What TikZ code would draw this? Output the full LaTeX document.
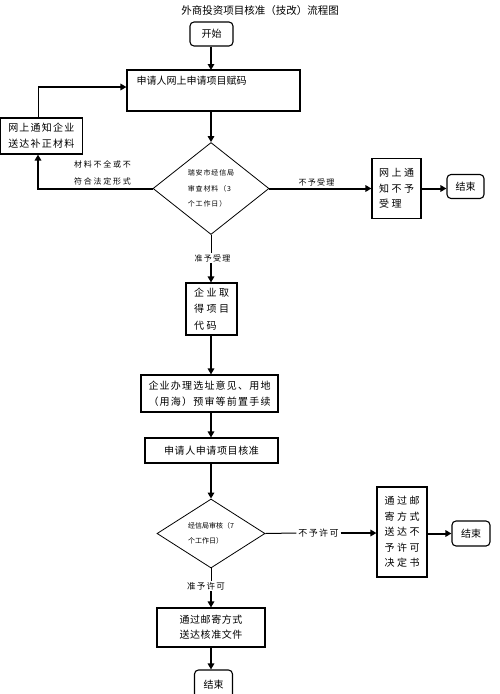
\documentclass[tikz,border=0pt]{standalone}
\usepackage{fontspec}
\usetikzlibrary{arrows.meta,shapes.geometric}
\newfontfamily\cjk{Noto Sans CJK SC}
\newfontfamily\cjkA[LetterSpace=25]{Noto Sans CJK SC}
\newfontfamily\cjkB[LetterSpace=12]{Noto Sans CJK SC}
\newfontfamily\cjkC[LetterSpace=22]{Noto Sans CJK SC}
\newfontfamily\cjkD[LetterSpace=6]{Noto Sans CJK SC}
\newfontfamily\cjkE[LetterSpace=15]{Noto Sans CJK SC}
\begin{document}
\begin{tikzpicture}[x=1pt,y=-1pt,
  box/.style={draw,line width=1.1pt,inner sep=0pt,align=center},
  rbox/.style={box,rounded corners=4pt},
  dia/.style={draw,diamond,line width=0.8pt,inner sep=0pt,align=left},
  arr/.style={line width=2pt,-{Triangle[length=6pt,width=6.5pt]}},
  thinline/.style={line width=1pt},
  lbl/.style={inner sep=1pt,align=left}]
\useasboundingbox[fill=white] (0,0) rectangle (500,694);

\node[font=\cjk\fontsize{10.5}{12}\selectfont] (title) at (260,11) {外商投资项目核准（技改）流程图};

\node[rbox,minimum width=43pt,minimum height=24pt,font=\cjk\fontsize{10}{12}\selectfont] (start) at (211.5,34) {开始};

\node[box,minimum width=173pt,minimum height=41pt,
  label={[font=\cjk\fontsize{10}{12}\selectfont,anchor=north west,inner sep=0pt,xshift=10pt,yshift=-6pt]north west:申请人网上申请项目赋码}] (b1) at (213.5,90.5) {};

\node[box,minimum width=81.5pt,minimum height=36pt,align=left,font=\cjkB\fontsize{10}{16}\selectfont] (left) at (41.3,136) {网上通知企业\\送达补正材料};

\node[dia,minimum width=116pt,minimum height=92pt,font=\cjkB\fontsize{7}{15.5}\selectfont] (d1) at (211,188.5) {瑞安市经信局\\审查材料（3\\个工作日）};

\node[box,minimum width=49pt,minimum height=60pt,align=left,font=\cjkA\fontsize{10}{15.5}\selectfont] (r1) at (396.5,188.5) {网上通\\知不予\\受理};

\node[rbox,minimum width=37pt,minimum height=24pt,font=\cjk\fontsize{10}{12}\selectfont] (end1) at (465.5,186.5) {结束};

\node[box,minimum width=51pt,minimum height=52pt,align=left,font=\cjkA\fontsize{10}{16.5}\selectfont] (b2) at (211.5,309) {企业取\\得项目\\代码};

\node[box,minimum width=137pt,minimum height=37pt,font=\cjkB\fontsize{10}{16}\selectfont] (b3) at (209.5,393.5) {企业办理选址意见、用地\\（用海）预审等前置手续};

\node[box,minimum width=133pt,minimum height=25pt,font=\cjkD\fontsize{10}{12}\selectfont] (b4) at (211.5,450.5) {申请人申请项目核准};

\node[dia,minimum width=108pt,minimum height=69pt,font=\cjk\fontsize{7}{15}\selectfont] (d2) at (211,533.5) {经信局审核（7\\个工作日）};

\node[box,minimum width=50pt,minimum height=90pt,align=left,font=\cjkA\fontsize{10}{15.5}\selectfont] (r2) at (402,532) {通过邮\\寄方式\\送达不\\予许可\\决定书};

\node[rbox,minimum width=38pt,minimum height=25pt,font=\cjk\fontsize{10}{12}\selectfont] (end2) at (471,533.5) {结束};

\node[box,minimum width=108pt,minimum height=39pt,font=\cjkD\fontsize{10}{15}\selectfont] (b5) at (211,627.5) {通过邮寄方式\\送达核准文件};

\node[rbox,minimum width=38pt,minimum height=30pt,font=\cjk\fontsize{10}{12}\selectfont] (end3) at (213.5,685) {\raisebox{2pt}{结束}};

% labels
\node[lbl,anchor=west,font=\cjkC\fontsize{8}{17}\selectfont] (lblL) at (73,172.5) {材料不全或不\\符合法定形式};
\node[lbl,font=\cjkE\fontsize{8}{10}\selectfont] (lblR1) at (316.5,182) {不予受理};
\node[lbl,font=\cjkE\fontsize{8}{10}\selectfont] (lblD1) at (212.5,258) {准予受理};
\node[lbl,inner sep=2pt,font=\cjkE\fontsize{9}{10}\selectfont] (lblR2) at (318.5,533) {不予许可};
\node[lbl,font=\cjkE\fontsize{8.5}{10}\selectfont] (lblD2) at (206,586) {准予许可};

\coordinate (cL) at (38,188.5);
\coordinate (cT) at (38,87);

% connectors
\draw[arr] (start.south -| 211,0) -- (211,70);
\draw[arr] (b1.south -| d1.north) -- (d1.north);
\draw[arr] (d1.west) -- (cL) -- (cL |- left.south);
\draw[thinline] (left.north -| cT) -- (cT);
\draw[arr] (cT) -- (cT -| b1.west);
\draw[arr] (d1.east) -- (r1.west);
\draw[arr] (r1.east) -- (r1.east -| end1.west);
\draw[thinline] (d1.south) -- (d1.south |- lblD1.north);
\draw[arr] (d1.south |- lblD1.south) -- (d1.south |- b2.north);
\draw[arr] (b2.south -| d1.south) -- (d1.south |- b3.north);
\draw[arr] (b3.south -| d1.south) -- (d1.south |- b4.north);
\draw[arr] (b4.south -| d2.north) -- (d2.north);
\draw[thinline] (d2.east) -- (lblR2.west);
\draw[arr] (lblR2.east) -- (lblR2.east -| r2.west);
\draw[arr] (r2.east |- end2.west) -- (end2.west);
\draw[thinline] (d2.south) -- (d2.south |- lblD2.north);
\draw[arr] (d2.south |- lblD2.south) -- (d2.south |- b5.north);
\draw[arr] (b5.south -| d2.south) -- (d2.south |- end3.north);
\end{tikzpicture}
\end{document}
